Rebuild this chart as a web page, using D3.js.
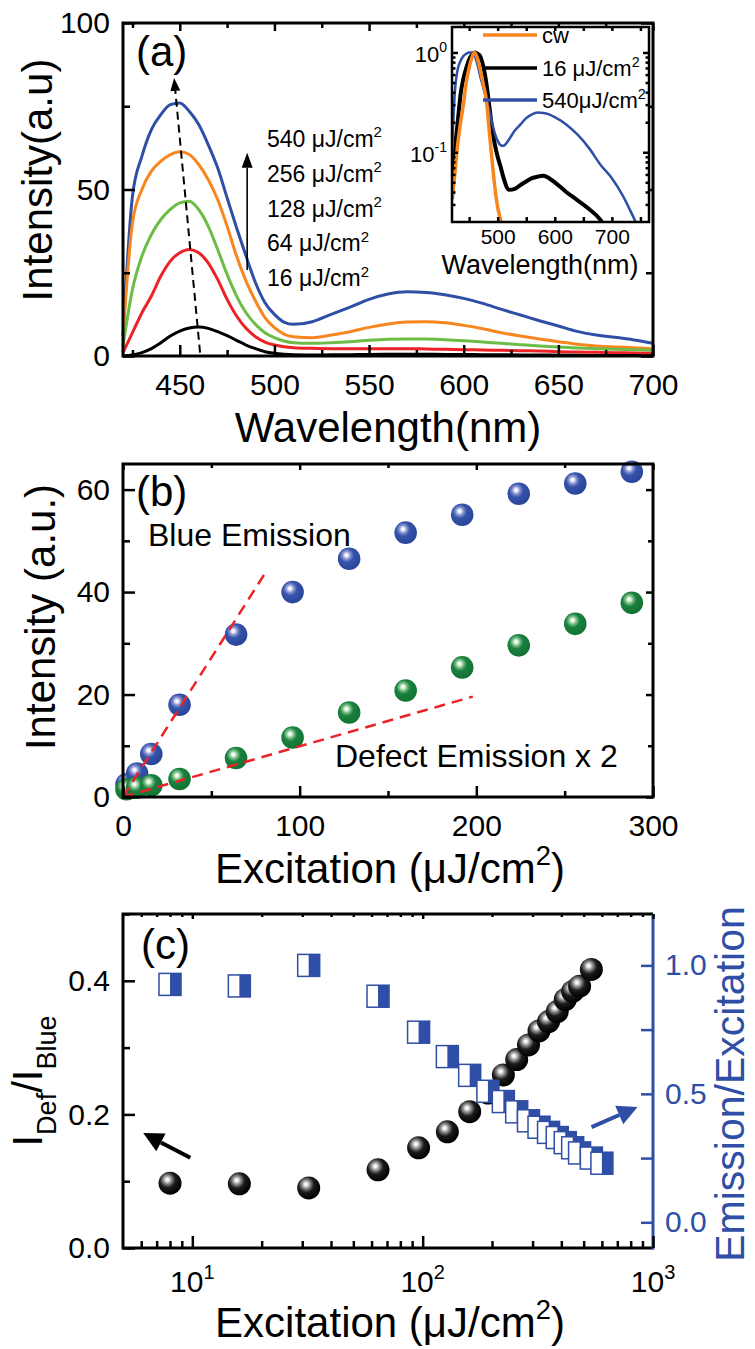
<!DOCTYPE html>
<html>
<head>
<meta charset="UTF-8">
<script src="https://d3js.org/d3.v7.min.js"></script>
<style>
  body { margin: 0; background: #fff; }
  text { font-family: "Liberation Sans", Arial, Helvetica, sans-serif; }
</style>
</head>
<body>
<svg id="chart" width="755" height="1349"></svg>
<script>
// ---------- panel (a): PL spectra ----------
const wl = [420,425,430,435,440,445,450,455,460,465,470,475,480,485,490,495,500,505,510,
            520,530,540,550,560,570,580,590,600,610,620,630,640,650,660,670,680,690,700];
const spec540 = [6,48,60,68,72.5,75.5,76,73.5,69.5,63.5,56.5,47.5,38.5,30,22,16,12.5,10.2,9.5,
                 10.3,12.5,14.7,17,18.6,19.3,19.1,18.4,17.3,15.8,14,12.3,10.6,9,7.4,6.3,5.6,4.8,3.8];
const spec256 = [6,40,50,55.5,58.5,60.5,61.3,60.5,57.5,53,47,39,30,22.5,16.5,11.5,8.5,6.6,5.8,
                 5.5,6.3,7.3,8.6,9.6,10.2,10.3,10,9.2,8.2,7,6,5.1,4.3,3.5,3,2.7,2.5,2.2];
const spec128 = [3,20,30,36.5,41,44,46,46.5,44,39,32,24.5,18,13,9.5,7,5.5,4.5,4,
                 3.8,4,4.3,4.7,5,5.1,5.1,4.9,4.6,4.2,3.8,3.4,3,2.7,2.4,2.2,2,1.9,1.7];
const spec64  = [1,7,13,18,24,28.5,31,32,31,28,23,17,12,8.3,5.8,4.2,3.3,2.8,2.5,
                 2.3,2.2,2.2,2.2,2.2,2.2,2.1,2,1.9,1.8,1.7,1.6,1.5,1.3,1.2,1.1,1,0.9,0.8];
const spec16  = [0,0.3,1,2.2,4,6,7.5,8.4,8.7,8.3,7.3,6.1,4.7,3.3,2.2,1.3,0.8,0.5,0.35,
                 0.3,0.35,0.4,0.45,0.5,0.5,0.5,0.48,0.45,0.4,0.36,0.32,0.28,0.25,0.2,0.17,0.14,0.12,0.1];
const fluenceLabels = ["540", "256", "128", "64", "16"];

// inset (normalised, log scale)
const insetWl = [420,425,430,435,440,445,450,455,460,465,470,475,480,485,490,495,500,505,510,
                 520,530,540,550,560,570,580,590,600,620,640,660,680,700,720,740,760];
const insetBlue = [0.1,0.4,0.68,0.82,0.92,0.97,1.0,1.0,0.92,0.74,0.56,0.44,0.34,0.27,0.2,0.155,0.13,0.118,0.116,
                   0.135,0.165,0.19,0.22,0.24,0.25,0.248,0.24,0.225,0.19,0.15,0.11,0.075,0.055,0.036,0.021,0.012];
const insetBlack = [0.034,0.1,0.2,0.38,0.55,0.7,0.85,0.95,1.0,0.97,0.9,0.72,0.5,0.3,0.18,0.12,0.09,0.072,0.056,
                    0.042,0.043,0.047,0.051,0.055,0.057,0.058,0.055,0.05,0.04,0.033,0.027,0.021,0.013,null,null,null];
const insetCw = [0.034,0.06,0.12,0.2,0.3,0.5,0.7,0.9,1.0,0.85,0.65,0.47,0.34,0.17,0.085,0.045,0.028,0.021,0.013,
                 null,null,null,null,null,null,null,null,null,null,null,null,null,null,null,null,null];
const insetLegend = ["cw", "16 μJ/cm", "540μJ/cm"];

// ---------- panel (b): intensity vs excitation ----------
const excBlue = [2,8,16,32,64,96,128,160,192,224,256,288];
const blueEm  = [2.5,4.6,8.4,18,31.7,40,46.5,51.6,55.1,59.2,61.2,63.5];
const excDef  = [2,8,16,32,64,96,128,160,192,224,256,288];
const defEm   = [1.5,1.8,2.3,3.5,7.6,11.6,16.5,20.8,25.3,29.6,33.8,37.9];
const fitBlueX = [0, 81],  fitBlueY = [0, 44];
const fitDefX  = [0, 198], fitDefY  = [0, 19.6];

// ---------- panel (c): ratio and efficiency ----------
const excRatio = [8,16,32,64,96,128,160,192,224,256,288,320,352,384,416,448,480,540];
const ratio    = [0.097,0.096,0.09,0.117,0.15,0.174,0.204,0.232,0.259,0.282,0.304,0.325,0.339,0.354,0.372,0.384,0.392,0.417];
const excEff   = [8,16,32,64,96,128,160,192,224,256,288,320,352,384,416,448,480,540,600];
const effic    = [0.926,0.92,1.0,0.88,0.74,0.645,0.572,0.51,0.47,0.43,0.395,0.37,0.35,0.33,0.31,0.29,0.27,0.25,0.23];

const BLUE = "#2f4ea5", ORANGE = "#f7861f", GREEN = "#6cbd45", RED = "#ec2227";
const specColors = [BLUE, ORANGE, GREEN, RED, "#000"];

const svg = d3.select("#chart");
svg.append("rect").attr("width", 755).attr("height", 1349).attr("fill", "#fff");
const defs = svg.append("defs");

function sphereGrad(id, stops) {
  const g = defs.append("radialGradient").attr("id", id)
    .attr("cx", "0.4").attr("cy", "0.36").attr("r", "0.62").attr("fx", "0.38").attr("fy", "0.34");
  stops.forEach(([o, c]) => g.append("stop").attr("offset", o).attr("stop-color", c));
}
sphereGrad("gBlue",  [[0, "#ffffff"], [0.1, "#f4f4ff"], [0.28, "#8893d0"], [0.5, "#3553aa"], [1, "#2a4699"]]);
sphereGrad("gGreen", [[0, "#ffffff"], [0.1, "#f0fbef"], [0.28, "#79bf86"], [0.5, "#1a8040"], [1, "#117432"]]);
sphereGrad("gBlack", [[0, "#ffffff"], [0.1, "#f2f2f2"], [0.3, "#8a8a8a"], [0.55, "#1c1c1c"], [1, "#000"]]);

function tickRow(g, axisFn, scale, values, len, tr, color = "#000") {
  const a = g.append("g").attr("transform", tr)
    .call(axisFn(scale).tickValues(values).tickSize(-len).tickFormat(""));
  a.select(".domain").remove();
  a.selectAll(".tick line").attr("stroke", color).attr("stroke-width", 2.5);
}
function labelRow(g, axisFn, scale, values, pad, tr, fmt, size = 30, color = "#000") {
  const a = g.append("g").attr("transform", tr)
    .call(axisFn(scale).tickValues(values).tickSize(0).tickPadding(pad).tickFormat(fmt));
  a.select(".domain").remove();
  a.attr("font-family", null).attr("font-size", null);
  a.selectAll(".tick text").style("font-size", size + "px").style("fill", color);
}
function arrow(g, x1, y1, x2, y2, color, width, headL, headW, dash) {
  const ang = Math.atan2(y2 - y1, x2 - x1);
  const bx = x2 - headL * Math.cos(ang), by = y2 - headL * Math.sin(ang);
  g.append("line").attr("x1", x1).attr("y1", y1).attr("x2", bx).attr("y2", by)
    .attr("stroke", color).attr("stroke-width", width).attr("stroke-dasharray", dash || null);
  const px = Math.sin(ang) * headW / 2, py = -Math.cos(ang) * headW / 2;
  g.append("path").attr("d", `M${x2},${y2}L${bx + px},${by + py}L${bx - px},${by - py}Z`).attr("fill", color);
}
function cmText(g, x, y, pre, size, anchor, color = "#000", close = "") {
  const t = g.append("text").attr("x", x).attr("y", y).attr("text-anchor", anchor)
    .style("font-size", size + "px").style("fill", color);
  t.append("tspan").text(pre);
  t.append("tspan").attr("dy", -size * 0.42).style("font-size", (size * 0.65) + "px").text("2");
  if (close) t.append("tspan").attr("dy", size * 0.42).text(close);
  return t;
}
function rotTitle(g, x, y, txt, size, color = "#000") {
  return g.append("text").attr("transform", `translate(${x},${y}) rotate(-90)`)
    .attr("text-anchor", "middle").style("font-size", size + "px").style("fill", color).text(txt);
}

// ================= panel (a) =================
const L = 123, R = 653;
const ga = svg.append("g");
const xa = d3.scaleLinear().domain([420, 700]).range([L, R]);
const ya = d3.scaleLinear().domain([0, 100]).range([356, 23]);
const lineA = d3.line().x(d => xa(d[0])).y(d => ya(d[1])).curve(d3.curveMonotoneX);
[spec540, spec256, spec128, spec64, spec16].forEach((s, i) => {
  ga.append("path").datum(wl.map((w, j) => [w, s[j]]))
    .attr("d", lineA).attr("fill", "none").attr("stroke", specColors[i]).attr("stroke-width", 3);
});
ga.append("rect").attr("x", L).attr("y", 23).attr("width", R - L).attr("height", 333)
  .attr("fill", "none").attr("stroke", "#000").attr("stroke-width", 3);
tickRow(ga, d3.axisBottom, xa, d3.range(450, 701, 50), 11, "translate(0,356)");
tickRow(ga, d3.axisBottom, xa, d3.range(425, 700, 50), 6, "translate(0,356)");
tickRow(ga, d3.axisTop, xa, d3.range(450, 701, 50), 8, "translate(0,23)");
tickRow(ga, d3.axisTop, xa, d3.range(425, 700, 50), 5, "translate(0,23)");
tickRow(ga, d3.axisLeft, ya, [0, 50, 100], 12, `translate(${L},0)`);
tickRow(ga, d3.axisLeft, ya, [25, 75], 7, `translate(${L},0)`);
tickRow(ga, d3.axisRight, ya, [0, 50, 100], 12, `translate(${R},0)`);
tickRow(ga, d3.axisRight, ya, [25, 75], 7, `translate(${R},0)`);
labelRow(ga, d3.axisBottom, xa, d3.range(450, 701, 50), 18, "translate(0,356)", d3.format("d"));
labelRow(ga, d3.axisLeft, ya, [0, 50, 100], 13, `translate(${L},0)`, d3.format("d"));
ga.append("text").attr("x", 388).attr("y", 442).attr("text-anchor", "middle")
  .style("font-size", "42px").text("Wavelength(nm)");
rotTitle(ga, 52, 180, "Intensity(a.u)", 42);
ga.append("text").attr("x", 136).attr("y", 66).style("font-size", "42px").text("(a)");
// peak-shift dashed arrow and fluence arrow
arrow(ga, xa(460.7), ya(1), xa(447), ya(83.5), "#000", 2, 13, 10, "8,5");
arrow(ga, xa(485.6), ya(25.8), xa(485.6), ya(61), "#000", 1.6, 15, 11);
fluenceLabels.forEach((f, i) => cmText(ga, 267, 147 + i * 34.8, f + " μJ/cm", 23, "start"));

// inset
const gi = svg.append("g");
const xi = d3.scaleLinear().domain([420, 765]).range([452, 649]);
const yi = d3.scaleLog().domain([0.02, 1.8]).range([222, 27]);
gi.append("rect").attr("x", 452).attr("y", 27).attr("width", 197).attr("height", 195).attr("fill", "#fff");
defs.append("clipPath").attr("id", "clipInset").append("rect")
  .attr("x", 452).attr("y", 27).attr("width", 197).attr("height", 195);
const lineI = d3.line().defined(d => d[1] != null).x(d => xi(d[0])).y(d => yi(d[1])).curve(d3.curveMonotoneX);
const gic = gi.append("g").attr("clip-path", "url(#clipInset)");
[[insetBlack, "#000", 4], [insetBlue, BLUE, 2.5], [insetCw, ORANGE, 3.5]].forEach(([s, c, w]) => {
  gic.append("path").datum(insetWl.map((v, j) => [v, s[j]]))
    .attr("d", lineI).attr("fill", "none").attr("stroke", c).attr("stroke-width", w);
});
gi.append("rect").attr("x", 452).attr("y", 27).attr("width", 197).attr("height", 195)
  .attr("fill", "none").attr("stroke", "#000").attr("stroke-width", 2.5);
const minorLog = [0.03,0.04,0.05,0.06,0.07,0.08,0.09,0.2,0.3,0.4,0.5,0.6,0.7,0.8,0.9];
tickRow(gi, d3.axisLeft, yi, [0.1, 1], 6, "translate(452,0)");
tickRow(gi, d3.axisLeft, yi, minorLog, 3.5, "translate(452,0)");
tickRow(gi, d3.axisRight, yi, [0.1, 1], 6, "translate(649,0)");
tickRow(gi, d3.axisRight, yi, minorLog, 3.5, "translate(649,0)");
tickRow(gi, d3.axisBottom, xi, [450,500,550,600,650,700,750], 5, "translate(0,222)");
tickRow(gi, d3.axisTop, xi, [450,500,550,600,650,700,750], 4, "translate(0,27)");
labelRow(gi, d3.axisBottom, xi, [500, 600, 700], 7, "translate(0,222)", d3.format("d"), 21);
[[1, "0"], [0.1, "-1"]].forEach(([v, e]) => {
  const t = gi.append("text").attr("x", 447).attr("y", yi(v) + 10).attr("text-anchor", "end")
    .style("font-size", "22px");
  t.append("tspan").text("10");
  t.append("tspan").attr("dy", -10).style("font-size", "14px").text(e);
});
gi.append("text").attr("x", 540).attr("y", 274).attr("text-anchor", "middle")
  .style("font-size", "27px").text("Wavelength(nm)");
[[ORANGE, 35], ["#000", 68], [BLUE, 100]].forEach(([c, yy], i) => {
  gi.append("line").attr("x1", 483).attr("x2", 537).attr("y1", yy).attr("y2", yy)
    .attr("stroke", c).attr("stroke-width", 3.5);
  if (i === 0) gi.append("text").attr("x", 542).attr("y", yy + 8).style("font-size", "22px").text(insetLegend[i]);
  else cmText(gi, 542, yy + 8, insetLegend[i], 22, "start");
});

// ================= panel (b) =================
const gb = svg.append("g");
const xb = d3.scaleLinear().domain([0, 300]).range([L, R]);
const yb = d3.scaleLinear().domain([0, 65]).range([797, 464]);
gb.selectAll(".sb").data(excBlue.map((x, i) => [x, blueEm[i]])).join("circle")
  .attr("cx", d => xb(d[0])).attr("cy", d => yb(d[1])).attr("r", 11.3).attr("fill", "url(#gBlue)");
gb.selectAll(".sg").data(excDef.map((x, i) => [x, defEm[i]])).join("circle")
  .attr("cx", d => xb(d[0])).attr("cy", d => yb(d[1])).attr("r", 11.3).attr("fill", "url(#gGreen)");
[[fitBlueX, fitBlueY], [fitDefX, fitDefY]].forEach(([fx, fy]) => {
  gb.append("path").datum(fx.map((x, i) => [x, fy[i]]))
    .attr("d", d3.line().x(d => xb(d[0])).y(d => yb(d[1])))
    .attr("fill", "none").attr("stroke", RED).attr("stroke-width", 2.5).attr("stroke-dasharray", "11,7");
});
gb.append("rect").attr("x", L).attr("y", 464).attr("width", R - L).attr("height", 333)
  .attr("fill", "none").attr("stroke", "#000").attr("stroke-width", 3);
tickRow(gb, d3.axisBottom, xb, [0, 100, 200, 300], 11, "translate(0,797)");
tickRow(gb, d3.axisBottom, xb, [50, 150, 250], 6, "translate(0,797)");
tickRow(gb, d3.axisTop, xb, [0, 100, 200, 300], 6, "translate(0,464)");
tickRow(gb, d3.axisTop, xb, [50, 150, 250], 4, "translate(0,464)");
tickRow(gb, d3.axisLeft, yb, [0, 20, 40, 60], 12, `translate(${L},0)`);
tickRow(gb, d3.axisLeft, yb, [10, 30, 50], 7, `translate(${L},0)`);
tickRow(gb, d3.axisRight, yb, [0, 20, 40, 60], 7, `translate(${R},0)`);
tickRow(gb, d3.axisRight, yb, [10, 30, 50], 5, `translate(${R},0)`);
labelRow(gb, d3.axisBottom, xb, [0, 100, 200, 300], 18, "translate(0,797)", d3.format("d"));
labelRow(gb, d3.axisLeft, yb, [0, 20, 40, 60], 13, `translate(${L},0)`, d3.format("d"));
cmText(gb, 390, 883, "Excitation (μJ/cm", 42, "middle", "#000", ")");
rotTitle(gb, 55, 617, "Intensity (a.u.)", 42);
gb.append("text").attr("x", 136).attr("y", 506).style("font-size", "42px").text("(b)");
gb.append("text").attr("x", 148).attr("y", 546).style("font-size", "32px").text("Blue Emission");
gb.append("text").attr("x", 335).attr("y", 767).style("font-size", "32px").text("Defect Emission x 2");

// ================= panel (c) =================
const gc = svg.append("g");
const xc = d3.scaleLog().domain([5, 1000]).range([L, R]);
const yc = d3.scaleLinear().domain([0, 0.5]).range([1248, 914]);
const yr = d3.scaleLinear().domain([-0.1, 1.2]).range([1248, 914]);
gc.selectAll(".sk").data(excRatio.map((x, i) => [x, ratio[i]])).join("circle")
  .attr("cx", d => xc(d[0])).attr("cy", d => yc(d[1])).attr("r", 11.5).attr("fill", "url(#gBlack)");
const sq = 22;
const sqs = gc.selectAll(".sq").data(excEff.map((x, i) => [x, effic[i]])).join("g")
  .attr("transform", d => `translate(${xc(d[0])},${yr(d[1])})`);
sqs.append("rect").attr("x", -sq / 2).attr("y", -sq / 2).attr("width", sq).attr("height", sq)
  .attr("fill", "#fff").attr("stroke", BLUE).attr("stroke-width", 1.5);
sqs.append("rect").attr("x", 0).attr("y", -sq / 2).attr("width", sq / 2).attr("height", sq).attr("fill", BLUE);
gc.append("path").attr("d", `M${R},914H${L}V1248H${R}`).attr("fill", "none")
  .attr("stroke", "#000").attr("stroke-width", 3);
gc.append("line").attr("x1", R).attr("x2", R).attr("y1", 914).attr("y2", 1249.5)
  .attr("stroke", BLUE).attr("stroke-width", 3);
const minorC = [6,7,8,9,20,30,40,50,60,70,80,90,200,300,400,500,600,700,800,900];
tickRow(gc, d3.axisBottom, xc, [10, 100, 1000], 12, "translate(0,1248)");
tickRow(gc, d3.axisBottom, xc, minorC, 7, "translate(0,1248)");
tickRow(gc, d3.axisTop, xc, [10, 100, 1000], 5, "translate(0,914)");
tickRow(gc, d3.axisTop, xc, minorC, 3, "translate(0,914)");
tickRow(gc, d3.axisLeft, yc, [0, 0.2, 0.4], 12, `translate(${L},0)`);
tickRow(gc, d3.axisLeft, yc, [0.1, 0.3, 0.5], 7, `translate(${L},0)`);
tickRow(gc, d3.axisRight, yr, [0, 0.25, 0.5, 0.75, 1.0], 12, `translate(${R},0)`, BLUE);
labelRow(gc, d3.axisLeft, yc, [0, 0.2, 0.4], 13, `translate(${L},0)`, d3.format(".1f"));
labelRow(gc, d3.axisRight, yr, [0, 0.5, 1.0], 12, `translate(${R},0)`, d3.format(".1f"), 30, BLUE);
[[10, "1"], [100, "2"], [1000, "3"]].forEach(([v, e]) => {
  const t = gc.append("text").attr("x", xc(v)).attr("y", 1292).attr("text-anchor", "middle")
    .style("font-size", "30px");
  t.append("tspan").text("10");
  t.append("tspan").attr("dy", -13).style("font-size", "20px").text(e);
});
cmText(gc, 390, 1337, "Excitation (μJ/cm", 42, "middle", "#000", ")");
rotTitle(gc, 744, 1084, "Emission/Excitation", 41, BLUE);
const yt = gc.append("text").attr("transform", "translate(42,1081) rotate(-90)")
  .attr("text-anchor", "middle").style("font-size", "42px");
yt.append("tspan").text("I");
yt.append("tspan").attr("dy", 14).style("font-size", "27px").text("Def");
yt.append("tspan").attr("dy", -14).text("/I");
yt.append("tspan").attr("dy", 14).style("font-size", "27px").text("Blue");
gc.append("text").attr("x", 141).attr("y", 959).style("font-size", "42px").text("(c)");
arrow(gc, xc(9.8), yc(0.135), xc(6.12), yc(0.172), "#000", 4, 20, 20);
arrow(gc, xc(541), yc(0.181), xc(857), yc(0.211), BLUE, 4, 20, 20);
</script>
</body>
</html>
